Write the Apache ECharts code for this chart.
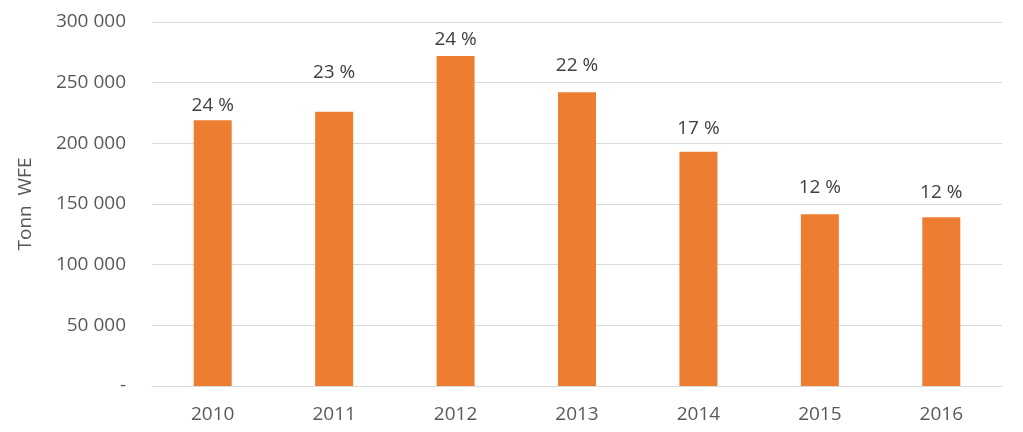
<!DOCTYPE html>
<html>
<head>
<meta charset="utf-8">
<script src="https://cdn.jsdelivr.net/npm/echarts@6/dist/echarts.min.js"></script>
<style>
html,body{margin:0;padding:0;background:#fff;}
#chart{width:1023px;height:432px;}
</style>
</head>
<body>
<div id="chart"></div>
<script>
const categories = ['2010','2011','2012','2013','2014','2015','2016'];
const tonnWFE = [219000, 226000, 272000, 242000, 193000, 141500, 139000];
const shareLabels = ['24 %','23 %','24 %','22 %','17 %','12 %','12 %'];
const yTicks = [0, 50000, 100000, 150000, 200000, 250000, 300000];
// label gap above each bar (layout only)
const labelGap = [5, 30, 7, 17, 14, 17, 15];

const font = '"Open Sans", sans-serif';
const textColor = '#595959';

function fmt(v){
  if (v === 0) return '-';
  return String(v).replace(/\B(?=(\d{3})+(?!\d))/g, ' ');
}

const chart = echarts.init(document.getElementById('chart'));
chart.setOption({
  animation: false,
  grid: {left: 152, right: 21, top: 22, bottom: 46, containLabel: false},
  xAxis: {
    type: 'category',
    data: categories,
    axisLine: {lineStyle: {color: '#d9d9d9', width: 1}},
    axisTick: {show: false},
    axisLabel: {color: textColor, fontFamily: font, fontSize: 19, margin: 19}
  },
  yAxis: {
    type: 'value',
    min: yTicks[0],
    max: yTicks[yTicks.length - 1],
    interval: yTicks[1] - yTicks[0],
    name: 'Tonn  WFE',
    nameLocation: 'middle',
    nameGap: 117,
    nameTextStyle: {color: textColor, fontFamily: font, fontSize: 19},
    axisLine: {show: false},
    axisTick: {show: false},
    splitLine: {lineStyle: {color: '#d9d9d9', width: 1}},
    axisLabel: {color: textColor, fontFamily: font, fontSize: 19, margin: 26, formatter: fmt}
  },
  series: [{
    type: 'bar',
    barWidth: 38,
    itemStyle: {color: '#ED7D31'},
    data: tonnWFE.map((v, i) => ({
      value: v,
      label: {
        show: true,
        position: 'top',
        distance: labelGap[i],
        formatter: shareLabels[i],
        color: '#404040',
        fontFamily: font,
        fontSize: 19
      }
    }))
  }]
});
</script>
</body>
</html>
